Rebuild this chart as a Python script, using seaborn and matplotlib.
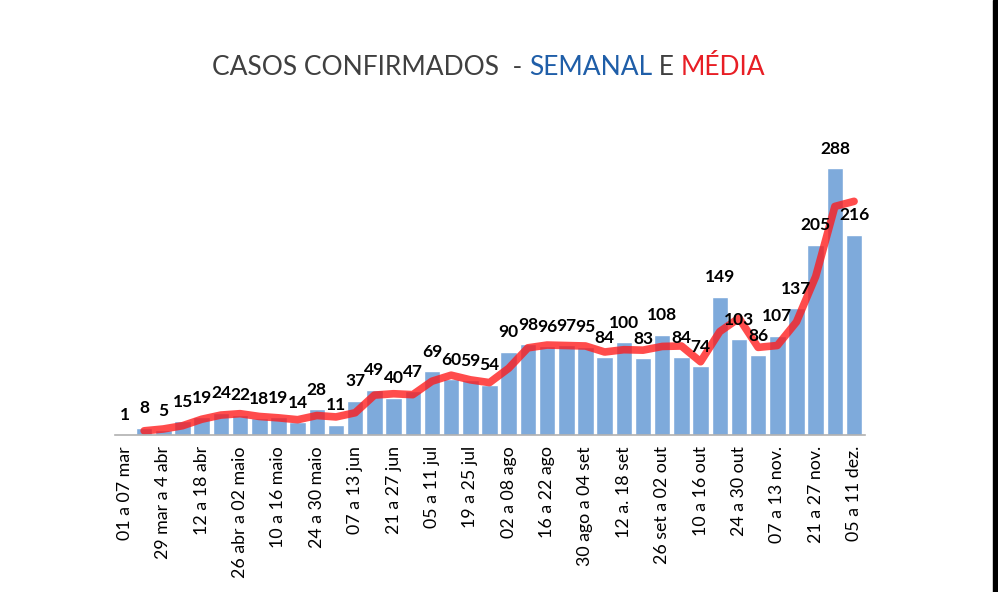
import pandas as pd
import numpy as np
import matplotlib
matplotlib.use("Agg")
import matplotlib.pyplot as plt
import seaborn as sns
from matplotlib.patches import Rectangle

# casos semanais (rótulos das barras)
casos = [1, 8, 5, 15, 19, 24, 22, 18, 19, 14, 28, 11, 37, 49, 40, 47, 69, 60, 59,
         54, 90, 98, 96, 97, 95, 84, 100, 83, 108, 84, 74, 149, 103, 86, 107,
         137, 205, 288, 216]

# média (linha vermelha), a partir da 2a semana
media = [4.5, 6.5, 10, 17, 21.5, 23, 20, 18.5, 16.5, 21, 19.5, 24, 43, 44.5,
         43.5, 58, 64.5, 59.5, 56.5, 72, 94, 97, 96.5, 96, 89.5, 92, 91.5, 95.5,
         96, 79, 111.5, 126, 94.5, 96.5, 122, 171, 246.5, 252]

# rótulos do eixo x (uma semana sim, outra não)
semanas = ["01 a 07 mar", "29 mar a 4 abr", "12 a 18 abr", "26 abr a 02 maio",
           "10 a 16 maio", "24 a 30 maio", "07 a 13 jun", "21 a 27 jun",
           "05 a 11 jul", "19 a 25 jul", "02 a 08 ago", "16 a 22 ago",
           "30 ago a 04 set", "12 a. 18 set", "26 set a 02 out", "10 a 16 out",
           "24 a 30 out", "07 a 13 nov.", "21 a 27 nov.", "05 a 11 dez."]

COR_BARRA = "#7eaadb"
COR_LINHA = "#ff1a1a"

sns.set_theme(style="white")
plt.rcParams["font.family"] = ["Lato", "DejaVu Sans"]

df = pd.DataFrame({"pos": np.arange(len(casos)), "casos": casos})
df_media = pd.DataFrame({"pos": np.arange(1, len(casos)), "media": media})

fig = plt.figure(figsize=(9.98, 5.92), dpi=100)
ax = fig.add_axes([115 / 998, (592 - 435) / 592, 750 / 998, 306 / 592])

sns.barplot(data=df, x="pos", y="casos", color=COR_BARRA, width=0.86,
            saturation=1, ax=ax)
sns.lineplot(data=df_media, x="pos", y="media", color=COR_LINHA, alpha=0.78,
             linewidth=5.5, ax=ax, solid_capstyle="round")

for i, v in enumerate(casos):
    ax.annotate(str(v), (i, v), xytext=(0, 14), textcoords="offset points",
                ha="center", va="center", fontsize=12.5, fontweight="bold",
                color="black")

ax.set_xlim(-0.52, len(casos) - 0.43)
ax.set_ylim(0, 330)
ax.set_xticks(np.arange(0, len(casos), 2))
ax.set_xticklabels(semanas, rotation=90, fontsize=12.8, color="black")
ax.tick_params(axis="x", length=0, pad=8)
ax.set_yticks([])
ax.set_xlabel("")
ax.set_ylabel("")
for s in ["top", "right", "left"]:
    ax.spines[s].set_visible(False)
ax.spines["bottom"].set_color("#b0b0b0")
ax.spines["bottom"].set_linewidth(1.2)

# título em várias cores
partes = [("CASOS CONFIRMADOS  - ", "#404040"), ("SEMANAL", "#1f5ea8"),
          (" E ", "#404040"), ("MÉDIA", "#e81e25")]
fig.canvas.draw()
renderer = fig.canvas.get_renderer()
x0 = 212 / 998
for texto, cor in partes:
    t = fig.text(x0, 1 - 75 / 592, texto, color=cor, fontsize=19,
                 ha="left", va="baseline")
    bb = t.get_window_extent(renderer=renderer)
    x0 += bb.width / fig.bbox.width

# faixa escura na borda direita
fig.add_artist(Rectangle((993 / 998, 0), 5 / 998, 1, transform=fig.transFigure,
                         color="black"))

fig.savefig("out.png", dpi=100)
